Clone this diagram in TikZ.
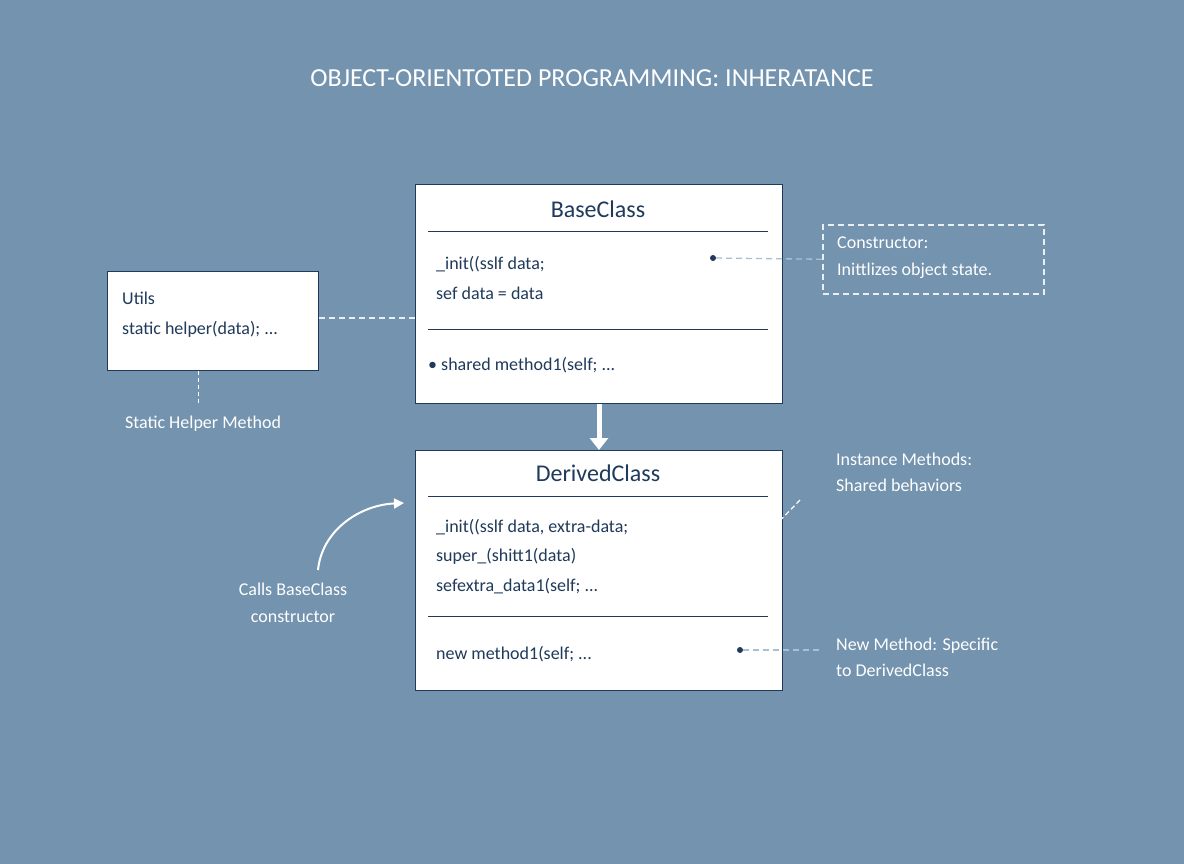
\documentclass[tikz,border=0pt]{standalone}
\usepackage{fontspec}
\setmainfont{Carlito}
\usetikzlibrary{arrows.meta}
\definecolor{bg}{HTML}{7393AE}
\definecolor{ink}{HTML}{1F3A5A}
\definecolor{lnk}{HTML}{A9C0D3}
\begin{document}
\begin{tikzpicture}[x=1pt,y=-1pt,
  cls/.style={draw=ink,line width=1pt,fill=white},
  sep/.style={draw=ink,line width=0.8pt},
  code/.style={anchor=west,text=ink,font=\fontsize{18}{20}\selectfont,inner sep=0},
  ttl/.style={text=ink,font=\fontsize{24}{26}\selectfont,inner sep=0},
  lbl/.style={text=white,font=\fontsize{18}{22}\selectfont,align=left,inner sep=0},
  dsh/.style={dash pattern=on 6pt off 4pt,line width=1.3pt},
  dot/.style={circle,fill=ink,inner sep=0,minimum size=6pt}]
\fill[bg] (0,0) rectangle (1184,864);
\useasboundingbox (0,0) rectangle (1184,864);
\node[text=white,font=\fontsize{26}{30}\selectfont] (title) at (592,78) {OBJECT-ORIENTOTED PROGRAMMING: INHERATANCE};
% Base
\node[cls,minimum width=367,minimum height=219,anchor=north west] (base) at (415,184) {};
\node[ttl] (bt) at (598,209) {BaseClass};
\draw[sep] (428,231) -- (768,231);
\draw[sep] (428,329) -- (768,329);
\node[code] (b1) at (436,264) {\_init((sslf data;};
\node[code] (b2) at (436,293) {sef data = data};
\node[code] (b3) at (428,365) {• shared method1(self; ...};
% Derived
\node[cls,minimum width=367,minimum height=240,anchor=north west] (der) at (415,450) {};
\node[ttl] (dt) at (598,473) {DerivedClass};
\draw[sep] (428,496) -- (768,496);
\draw[sep] (428,616) -- (768,616);
\node[code] (d1) at (436,527) {\_init((sslf data, extra-data;};
\node[code] (d2) at (436,556) {super\_(shitt1(data)};
\node[code] (d3) at (436,586) {sefextra\_data1(self; ...};
\node[code] (d4) at (436,654) {new method1(self; ...};
\draw[white,line width=5pt,-{Triangle[length=12pt,width=18pt]}] (base.south) -- (der.north);
% Utils
\node[cls,minimum width=211,minimum height=99,anchor=north west] (utils) at (107,271) {};
\node[code] (u1) at (122,298) {Utils};
\node[code] (u2) at (122,329) {static helper(data); ...};
\draw[dsh,white!85!bg] (utils.east |- 0,318) -- (base.west |- 0,318);
\coordinate (uh) at (198,403);
\draw[white,line width=1pt,dash pattern=on 4pt off 3pt] (utils.south -| uh) -- (uh);
\node[lbl,anchor=north] (ulbl) at (203,416) {Static Helper Method};
% Constructor
\node[draw=white!85!bg,dsh,line width=1.5pt,minimum width=221,minimum height=69,anchor=north west] (cons) at (822,224) {};
\node[lbl,anchor=west,font=\fontsize{18}{27}\selectfont] (cl) at (837,258) {Constructor:\\Inittlizes object state.};
\node[dot] (cd) at (713,258) {};
\draw[dsh,lnk] (cd) -- (cons.west);
% Instance
\node[lbl,anchor=west,font=\fontsize{18}{26}\selectfont] (il) at (836,472) {Instance Methods:\\Shared behaviors};
\coordinate (is) at (800,500);
\coordinate (ie) at (766,535);
\draw[white,line width=1.2pt,dash pattern=on 5pt off 3pt,-{Triangle[length=8pt,width=7pt]}] (is) -- (ie);
% New method
\node[lbl,anchor=west,font=\fontsize{18}{26}\selectfont] (nl) at (836,657) {New Method: Specific\\to DerivedClass};
\node[dot] (nd) at (740,650) {};
\coordinate (ne) at (822,650);
\draw[dsh,lnk] (nd) -- (ne);
% Calls
\node[lbl,align=center,font=\fontsize{18}{27}\selectfont] (call) at (293,603) {Calls BaseClass\\constructor};
\coordinate (cs) at (318,570);
\coordinate (ce) at (404,503);
\draw[white,line width=2pt,-{Triangle[length=10pt,width=10pt]}] (cs) .. controls (322,530) and (360,505) .. (ce);
\end{tikzpicture}
\end{document}
